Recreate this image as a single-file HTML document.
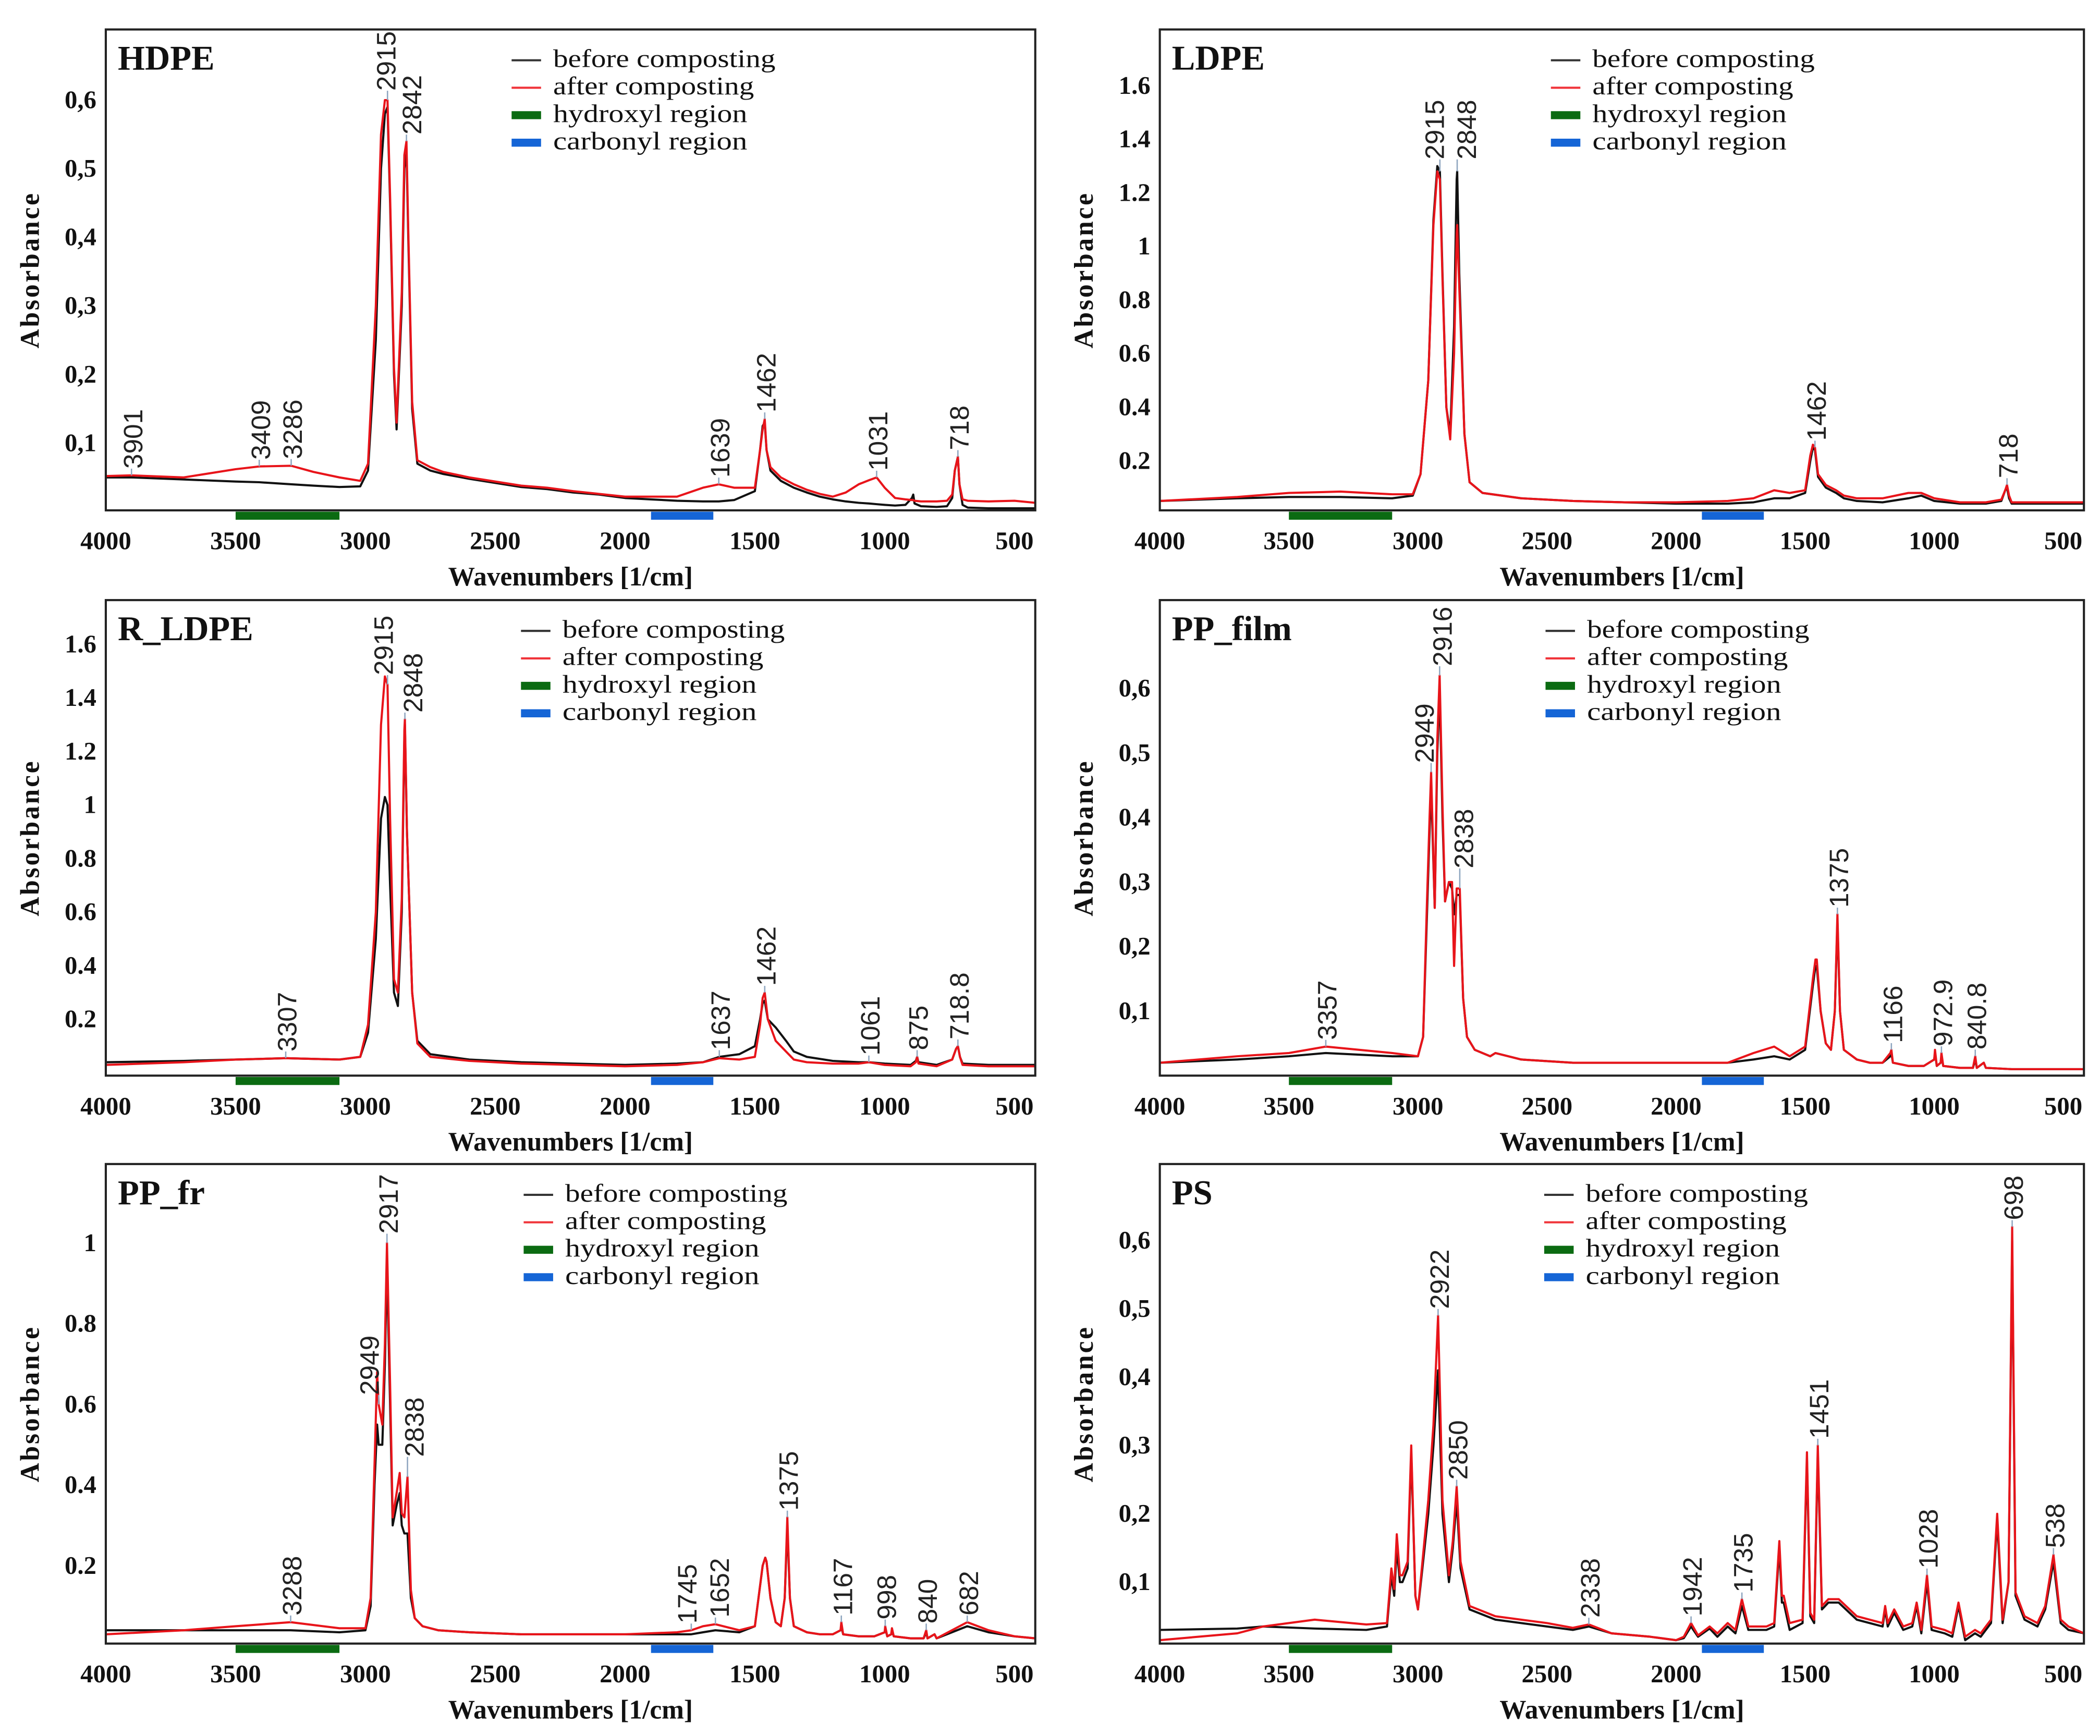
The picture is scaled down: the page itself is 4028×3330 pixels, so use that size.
<!DOCTYPE html>
<html><head><meta charset="utf-8">
<style>
html,body{margin:0;padding:0;background:#fff;}
svg{display:block;}
.tick{font-family:"Liberation Serif",serif;font-weight:bold;font-size:19px;fill:#111;}
.leg{font-family:"Liberation Serif",serif;font-size:19px;fill:#111;}
.ttl{font-family:"Liberation Serif",serif;font-weight:bold;font-size:26px;fill:#111;}
.axt{font-family:"Liberation Serif",serif;font-weight:bold;font-size:20px;fill:#111;}
.pk{font-family:"Liberation Sans",sans-serif;font-size:20px;fill:#222;}
</style></head>
<body>
<svg id="fig" width="4028" height="3330" viewBox="0 0 1568 1296" preserveAspectRatio="none" xmlns="http://www.w3.org/2000/svg"></svg>
<script>
// ---------- data ----------
const hdpeWn=[4000,3901,3700,3500,3409,3286,3200,3100,3020,2990,2960,2940,2925,2915,2905,2890,2880,2860,2850,2842,2835,2820,2800,2750,2700,2600,2500,2400,2300,2200,2100,2000,1900,1800,1700,1639,1580,1500,1480,1470,1462,1455,1440,1400,1350,1300,1250,1200,1150,1100,1060,1031,1000,960,920,895,890,885,860,800,760,740,730,718,712,700,680,600,500,420];
const hdpeBefore=[0.05,0.05,0.047,0.044,0.043,0.04,0.038,0.036,0.037,0.06,0.25,0.5,0.58,0.59,0.45,0.2,0.12,0.3,0.5,0.53,0.4,0.15,0.07,0.06,0.055,0.048,0.042,0.036,0.033,0.028,0.025,0.02,0.018,0.016,0.015,0.015,0.017,0.03,0.09,0.125,0.13,0.09,0.06,0.045,0.035,0.028,0.022,0.018,0.015,0.013,0.012,0.011,0.01,0.009,0.01,0.02,0.025,0.012,0.008,0.007,0.008,0.02,0.06,0.08,0.04,0.01,0.006,0.005,0.005,0.005];
const hdpeAfter=[0.052,0.053,0.05,0.062,0.066,0.067,0.058,0.05,0.045,0.07,0.3,0.55,0.6,0.6,0.46,0.21,0.13,0.32,0.52,0.54,0.41,0.16,0.075,0.065,0.058,0.05,0.044,0.038,0.035,0.03,0.026,0.022,0.022,0.022,0.035,0.04,0.035,0.035,0.09,0.12,0.135,0.09,0.065,0.05,0.04,0.032,0.026,0.022,0.028,0.04,0.046,0.05,0.035,0.02,0.018,0.017,0.017,0.016,0.015,0.015,0.016,0.025,0.06,0.08,0.04,0.018,0.016,0.015,0.016,0.013];
const hdpeLabels=["3901","3409","3286","2915","2842","1639","1462","1031","718"];
const hdpeLabelWn=[3901,3409,3286,2915,2842,1639,1462,1031,718];

const ldpeWn=[4000,3700,3500,3300,3100,3020,2990,2960,2940,2925,2915,2905,2890,2875,2860,2850,2848,2840,2820,2800,2750,2600,2400,2200,2000,1800,1700,1620,1560,1500,1480,1470,1462,1450,1420,1380,1350,1300,1200,1100,1050,1000,900,800,740,725,718,710,700,600,500,420];
const ldpeBefore=[0.05,0.06,0.065,0.065,0.06,0.07,0.15,0.5,1.1,1.3,1.28,0.9,0.4,0.3,0.7,1.25,1.28,0.9,0.3,0.12,0.08,0.06,0.05,0.045,0.04,0.04,0.045,0.06,0.06,0.08,0.2,0.25,0.24,0.14,0.1,0.08,0.06,0.05,0.045,0.06,0.07,0.05,0.04,0.04,0.05,0.09,0.1,0.06,0.04,0.04,0.04,0.04];
const ldpeAfter=[0.05,0.065,0.08,0.085,0.075,0.075,0.15,0.5,1.08,1.28,1.25,0.88,0.4,0.28,0.6,1.05,1.08,0.85,0.3,0.12,0.08,0.06,0.05,0.045,0.045,0.05,0.06,0.09,0.08,0.09,0.22,0.26,0.25,0.15,0.11,0.09,0.07,0.06,0.06,0.08,0.08,0.06,0.045,0.045,0.055,0.09,0.11,0.07,0.045,0.045,0.045,0.045];
const ldpeLabels=["2915","2848","1462","718"];
const ldpeLabelWn=[2915,2848,1462,718];

const rldpeWn=[4000,3700,3500,3307,3100,3020,2990,2960,2940,2925,2915,2905,2890,2875,2860,2850,2848,2840,2820,2800,2750,2600,2400,2200,2000,1800,1700,1637,1560,1500,1480,1470,1462,1450,1420,1380,1350,1300,1200,1100,1061,1000,900,880,875,870,800,740,725,718,710,700,600,500,420];
const rldpeBefore=[0.04,0.045,0.05,0.055,0.05,0.06,0.15,0.5,0.95,1.03,1.0,0.7,0.3,0.25,0.6,1.25,1.3,0.9,0.3,0.12,0.07,0.05,0.04,0.035,0.03,0.035,0.04,0.06,0.07,0.1,0.2,0.26,0.27,0.2,0.17,0.12,0.08,0.06,0.045,0.04,0.04,0.035,0.03,0.045,0.06,0.04,0.03,0.05,0.09,0.1,0.06,0.035,0.03,0.03,0.03];
const rldpeAfter=[0.03,0.04,0.05,0.055,0.05,0.06,0.18,0.6,1.3,1.48,1.45,0.95,0.35,0.3,0.65,1.28,1.32,0.9,0.3,0.11,0.06,0.045,0.035,0.03,0.025,0.03,0.04,0.055,0.05,0.06,0.18,0.28,0.3,0.2,0.12,0.08,0.05,0.04,0.035,0.035,0.04,0.03,0.025,0.04,0.06,0.035,0.025,0.05,0.09,0.1,0.06,0.03,0.025,0.025,0.025];
const rldpeLabels=["3307","2915","2848","1637","1462","1061","875","718.8"];
const rldpeLabelWn=[3307,2915,2848,1637,1462,1061,875,718];

const ppfWn=[4000,3700,3500,3357,3100,3000,2980,2965,2955,2949,2935,2925,2916,2905,2895,2880,2868,2860,2850,2838,2825,2810,2780,2720,2700,2600,2400,2200,2000,1800,1700,1620,1560,1500,1470,1460,1455,1440,1420,1400,1385,1375,1365,1350,1300,1250,1200,1170,1166,1160,1100,1040,1000,997,990,975,972,965,900,850,841,835,808,800,700,600,500,420];
const ppfBefore=[0.02,0.025,0.03,0.035,0.03,0.03,0.06,0.25,0.38,0.45,0.26,0.5,0.6,0.4,0.27,0.3,0.29,0.25,0.28,0.28,0.12,0.06,0.04,0.03,0.035,0.025,0.02,0.02,0.02,0.02,0.025,0.03,0.025,0.04,0.14,0.17,0.17,0.1,0.05,0.04,0.1,0.24,0.1,0.04,0.025,0.02,0.02,0.03,0.035,0.02,0.015,0.015,0.025,0.035,0.015,0.02,0.03,0.015,0.012,0.012,0.025,0.012,0.02,0.012,0.01,0.01,0.01,0.01];
const ppfAfter=[0.02,0.03,0.035,0.045,0.035,0.03,0.06,0.27,0.4,0.47,0.26,0.52,0.62,0.42,0.27,0.3,0.3,0.17,0.29,0.29,0.12,0.06,0.04,0.03,0.035,0.025,0.02,0.02,0.02,0.02,0.035,0.045,0.03,0.045,0.15,0.18,0.18,0.1,0.05,0.04,0.1,0.25,0.1,0.04,0.025,0.02,0.02,0.035,0.04,0.02,0.015,0.015,0.025,0.04,0.015,0.02,0.035,0.015,0.012,0.012,0.03,0.012,0.02,0.012,0.01,0.01,0.01,0.01];
const ppfLabels=["3357","2949","2916","2838","1375","1166","972.9","840.8"];
const ppfLabelWn=[3357,2949,2916,2838,1375,1166,972,841];

const pprWn=[4000,3700,3500,3288,3100,3000,2980,2965,2955,2949,2935,2925,2917,2905,2895,2880,2868,2860,2850,2838,2825,2810,2780,2720,2600,2400,2200,2000,1800,1745,1700,1652,1560,1500,1470,1460,1455,1440,1420,1400,1385,1375,1365,1350,1300,1250,1200,1170,1167,1160,1100,1040,1000,998,990,975,972,965,900,850,840,835,808,800,682,600,500,420];
const pprBefore=[0.04,0.04,0.04,0.04,0.035,0.04,0.1,0.4,0.55,0.5,0.5,0.7,0.95,0.6,0.3,0.35,0.38,0.3,0.28,0.28,0.12,0.07,0.05,0.04,0.035,0.03,0.03,0.03,0.03,0.03,0.035,0.04,0.035,0.05,0.2,0.22,0.21,0.12,0.06,0.05,0.12,0.3,0.12,0.05,0.035,0.03,0.03,0.04,0.05,0.03,0.025,0.025,0.035,0.045,0.025,0.03,0.04,0.025,0.02,0.02,0.035,0.02,0.03,0.02,0.05,0.035,0.025,0.02];
const pprAfter=[0.03,0.04,0.05,0.06,0.045,0.045,0.12,0.45,0.68,0.6,0.55,0.75,1.0,0.65,0.32,0.38,0.43,0.33,0.32,0.42,0.14,0.07,0.05,0.04,0.035,0.03,0.03,0.03,0.035,0.04,0.05,0.055,0.04,0.05,0.2,0.22,0.21,0.12,0.06,0.05,0.12,0.32,0.12,0.05,0.035,0.03,0.03,0.04,0.06,0.03,0.025,0.025,0.035,0.05,0.025,0.03,0.045,0.025,0.02,0.02,0.04,0.02,0.03,0.02,0.06,0.04,0.025,0.02];
const pprLabels=["3288","2949","2917","2838","1745","1652","1375","1167","998","840","682"];
const pprLabelWn=[3288,2949,2917,2838,1745,1652,1375,1167,998,840,682];

const psWn=[4000,3700,3600,3400,3200,3120,3103,3092,3082,3070,3060,3040,3026,3010,3000,2960,2940,2922,2905,2880,2865,2850,2835,2800,2700,2500,2400,2338,2250,2100,2000,1970,1942,1915,1870,1840,1800,1770,1745,1720,1650,1620,1600,1590,1583,1560,1510,1493,1480,1465,1451,1435,1410,1370,1300,1250,1200,1190,1180,1155,1120,1085,1068,1050,1028,1010,960,930,906,880,842,820,780,756,735,712,698,685,650,600,570,538,510,480,420];
const psBefore=[0.03,0.032,0.035,0.032,0.03,0.035,0.11,0.08,0.15,0.1,0.1,0.12,0.29,0.08,0.06,0.2,0.3,0.41,0.2,0.1,0.15,0.22,0.12,0.06,0.045,0.035,0.03,0.035,0.025,0.02,0.015,0.018,0.035,0.02,0.032,0.02,0.035,0.025,0.065,0.03,0.03,0.035,0.15,0.07,0.07,0.03,0.04,0.28,0.05,0.04,0.29,0.06,0.07,0.07,0.045,0.04,0.035,0.06,0.035,0.055,0.03,0.035,0.065,0.025,0.1,0.03,0.025,0.02,0.065,0.015,0.025,0.02,0.04,0.19,0.04,0.1,0.6,0.08,0.045,0.035,0.06,0.13,0.04,0.03,0.025];
const psAfter=[0.015,0.025,0.035,0.045,0.038,0.04,0.12,0.09,0.17,0.11,0.11,0.13,0.3,0.08,0.06,0.22,0.33,0.49,0.22,0.11,0.16,0.24,0.13,0.065,0.05,0.04,0.033,0.038,0.025,0.02,0.015,0.02,0.04,0.022,0.035,0.025,0.04,0.03,0.075,0.035,0.035,0.04,0.16,0.08,0.08,0.04,0.045,0.29,0.055,0.045,0.3,0.065,0.075,0.075,0.05,0.045,0.04,0.065,0.04,0.06,0.035,0.04,0.07,0.03,0.11,0.035,0.03,0.025,0.07,0.02,0.03,0.025,0.045,0.2,0.045,0.1,0.62,0.085,0.05,0.04,0.065,0.14,0.045,0.035,0.025];
const psLabels=["2922","2850","2338","1942","1735","1451","1028","698","538"];
const psLabelWn=[2922,2850,2338,1942,1745,1451,1028,698,538];

const xTicks=[4000,3500,3000,2500,2000,1500,1000,500];
const legendLabels=["before composting","after composting","hydroxyl region","carbonyl region"];

// ---------- layout ----------
const NS="http://www.w3.org/2000/svg";
const svg=document.getElementById('fig');
function el(tag,attrs,parent){const e=document.createElementNS(NS,tag);for(const k in attrs)e.setAttribute(k,attrs[k]);(parent||svg).appendChild(e);return e;}

// nudges: label text -> [dx, dy] in px (layout only)
const nudges={"HDPE":{"2915":[-2,-2],"2842":[3,0]},
 "LDPE":{"2915":[-5,-4],"2848":[6,-4]},
 "R_LDPE":{"2915":[-4,-2],"2848":[5,0]},
 "PP_film":{"2949":[-6,-2],"2916":[1,-2],"2838":[2,-10]},
 "PP_fr":{"2949":[-8,-2],"2917":[0,-2],"2838":[4,-10],"1745":[-4,0],"1652":[2,0]},
 "PS":{}};

const panels=[
 {name:"HDPE",x0:79,x1:773,y0:22,y1:381,ymin:0.002,ymax:0.703,ticks:[0.1,0.2,0.3,0.4,0.5,0.6],comma:true,wn:hdpeWn,b:hdpeBefore,a:hdpeAfter,lab:hdpeLabels,labWn:hdpeLabelWn,legX:382},
 {name:"LDPE",x0:866,x1:1556,y0:22,y1:381,ymin:0.015,ymax:1.81,ticks:[0.2,0.4,0.6,0.8,1,1.2,1.4,1.6],comma:false,wn:ldpeWn,b:ldpeBefore,a:ldpeAfter,lab:ldpeLabels,labWn:ldpeLabelWn,legX:1158},
 {name:"R_LDPE",x0:79,x1:773,y0:448,y1:803,ymin:-0.01,ymax:1.765,ticks:[0.2,0.4,0.6,0.8,1,1.2,1.4,1.6],comma:false,wn:rldpeWn,b:rldpeBefore,a:rldpeAfter,lab:rldpeLabels,labWn:rldpeLabelWn,legX:389},
 {name:"PP_film",x0:866,x1:1556,y0:448,y1:803,ymin:0.0,ymax:0.737,ticks:[0.1,0.2,0.3,0.4,0.5,0.6],comma:true,wn:ppfWn,b:ppfBefore,a:ppfAfter,lab:ppfLabels,labWn:ppfLabelWn,legX:1154},
 {name:"PP_fr",x0:79,x1:773,y0:869,y1:1227,ymin:0.007,ymax:1.196,ticks:[0.2,0.4,0.6,0.8,1],comma:false,wn:pprWn,b:pprBefore,a:pprAfter,lab:pprLabels,labWn:pprLabelWn,legX:391},
 {name:"PS",x0:866,x1:1556,y0:869,y1:1227,ymin:0.01,ymax:0.712,ticks:[0.1,0.2,0.3,0.4,0.5,0.6],comma:true,wn:psWn,b:psBefore,a:psAfter,lab:psLabels,labWn:psLabelWn,legX:1153}
];

panels.forEach(p=>{
 const slug=p.name.toLowerCase().replace('_','-');
 const g=el('g',{});
 
 
 const sx=w=>p.x0+(4000-w)/(4000-420)*(p.x1-p.x0);
 const sy=v=>p.y1-(v-p.ymin)/(p.ymax-p.ymin)*(p.y1-p.y0);
 const hb=el('rect',{x:sx(3500),y:p.y1+1,width:sx(3100)-sx(3500),height:6,fill:'#0b6b12'},g);
 
 
 const cb=el('rect',{x:sx(1900),y:p.y1+1,width:sx(1660)-sx(1900),height:6,fill:'#1565d6'},g);
 
 
 const path=(arr,col,nm)=>{let d='';const n=Math.min(arr.length,p.wn.length);for(let i=0;i<n;i++){d+=(i?'L':'M')+sx(p.wn[i]).toFixed(2)+','+sy(arr[i]).toFixed(2);}
  const e=el('path',{d:d,fill:'none',stroke:col,'stroke-width':1.6,'stroke-linejoin':'round'},g);
  
  };
 path(p.b,'#111','before-composting-line');
 path(p.a,'#e8141a','after-composting-line');
 const fr=el('rect',{x:p.x0,y:p.y0,width:p.x1-p.x0,height:p.y1-p.y0,fill:'none',stroke:'#222','stroke-width':1.6},g);
 
 
 p.ticks.forEach(t=>{let s=String(t);if(p.comma)s=s.replace('.',',');
  const e=el('text',{x:p.x0-7,y:sy(t)+6,'text-anchor':'end',class:'tick'},g);e.textContent=s;
  
  });
 xTicks.forEach(t=>{const e=el('text',{x:sx(t),y:p.y1+29,'text-anchor':'middle',class:'tick'},g);e.textContent=t;
  
  });
 const xt=el('text',{x:(p.x0+p.x1)/2,y:p.y1+56,'text-anchor':'middle',class:'axt'},g);xt.textContent='Wavenumbers [1/cm]';
 
 
 const yc=(p.y0+p.y1)/2, yx=p.x0-50;
 const yt=el('text',{x:yx,y:yc,'text-anchor':'middle',class:'axt','letter-spacing':'1.5',transform:`rotate(-90 ${yx} ${yc})`},g);yt.textContent='Absorbance';
 
 
 const tt=el('text',{x:p.x0+9,y:p.y0+30,class:'ttl'},g);tt.textContent=p.name;
 
 
 const cols=['#333','#f0343a','#0b6b12','#1565d6'];const widths=[1.6,1.6,6,6];const tl=[166,150,145,145];
 legendLabels.forEach((s,i)=>{const ly=p.y0+28+i*20.5;
  const ln=el('line',{x1:p.legX,x2:p.legX+22,y1:ly-5,y2:ly-5,stroke:cols[i],'stroke-width':widths[i]},g);
  
  
  const tx=el('text',{x:p.legX+31,y:ly,class:'leg',textLength:tl[i],lengthAdjust:'spacingAndGlyphs'},g);tx.textContent=s;
  
  });
 const interp=(arr,w)=>{let best=0;for(let i=0;i<p.wn.length-1;i++){if(p.wn[i]>=w&&p.wn[i+1]<=w){const f=(p.wn[i]-w)/(p.wn[i]-p.wn[i+1]);best=arr[i]+(arr[i+1]-arr[i])*f;break;}}return best;};
 const nd=nudges[p.name]||{};
 p.lab.forEach((s,i)=>{const w=p.labWn[i];const v=Math.max(interp(p.a,w),interp(p.b,w));const n=nd[s]||[0,0];
  const px=sx(w),py=sy(v)-5+n[1];
  const ld=el('line',{x1:px,x2:px,y1:py,y2:sy(v),stroke:'#8fa6c0','stroke-width':1},g);
  
  
  const ax=px+8+n[0];
  const tx=el('text',{x:ax,y:py,class:'pk',transform:`rotate(-90 ${ax} ${py})`},g);tx.textContent=s;
  
  });
});
</script>
</body></html>
